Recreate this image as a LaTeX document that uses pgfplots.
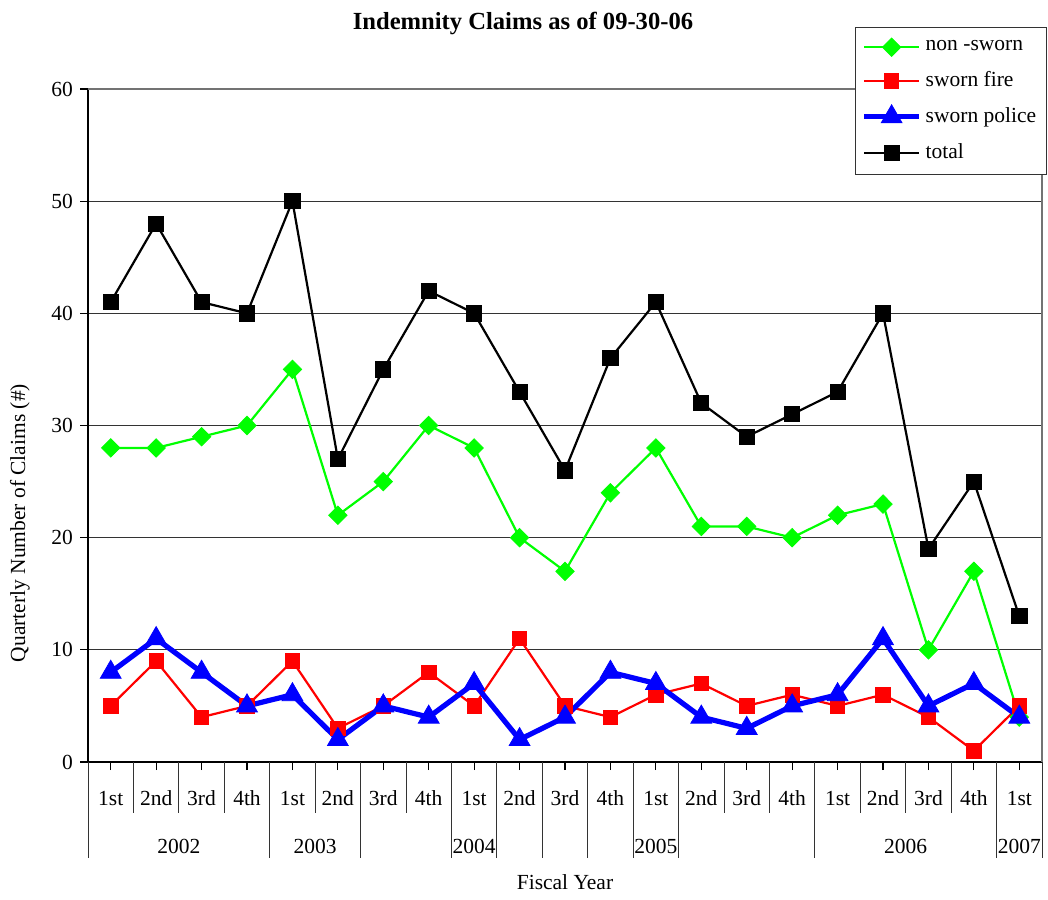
\documentclass[border=0pt]{standalone}
\usepackage{pgfplots}
\pgfplotsset{compat=1.18}
\usepackage{fontspec}
\setmainfont{Liberation Serif}
\newcommand\lbl{\fontsize{10.75pt}{12pt}\selectfont}
\definecolor{lime}{RGB}{0,255,0}
\begin{document}
\begin{tikzpicture}
\useasboundingbox (0,0) rectangle (524pt,449.5pt);
\begin{axis}[
  at={(44pt,68.5pt)}, anchor=south west,
  scale only axis, width=477pt, height=336.5pt,
  xmin=-0.5, xmax=20.5, ymin=0, ymax=60,
  xtick={0,...,20}, xticklabels={},
  ytick={0,10,...,60},
  tick align=outside, xtick pos=bottom, ytick pos=left,
  major tick length=4pt,
  tick style={black, line width=0.6pt},
  ymajorgrids, grid style={black!80, line width=0.5pt},
  axis line style={black, line width=0.8pt},
  /pgf/number format/assume math mode=true,
  ticklabel style={font=\lbl},
  clip=false,
  every axis title shift=0pt,
  title={Indemnity Claims as of 09-30-06},
  title style={at={(axis description cs:0.456,1.089)}, anchor=base, font=\bfseries\fontsize{12.3pt}{14pt}\selectfont},
  ylabel={Quarterly Number of Claims (\#)},
  ylabel style={at={(axis description cs:-0.0713,0.355)}, anchor=center, font=\lbl},
  xlabel={Fiscal Year},
  xlabel style={at={(axis description cs:0.5,-0.178)}, anchor=center, font=\lbl},
  legend style={at={(axis description cs:0.804,1.092)}, anchor=north west, draw=black!80, line width=0.5pt, font=\lbl, row sep=5pt, inner xsep=3pt, inner ysep=4.5pt, cells={anchor=west}},
  legend image code/.code={\draw[mark repeat=2,mark phase=2] plot coordinates {(0pt,0pt) (13.75pt,0pt) (27.5pt,0pt)};},
]
\addplot[color=lime, line width=1.1pt, mark=diamond*, mark size=4.6pt, mark options={solid, xscale=1.33, line width=0.4pt, fill=lime}]
 coordinates {(0,28)(1,28)(2,29)(3,30)(4,35)(5,22)(6,25)(7,30)(8,28)(9,20)(10,17)(11,24)(12,28)(13,21)(14,21)(15,20)(16,22)(17,23)(18,10)(19,17)(20,4)};
\addlegendentry{non -sworn}
\addplot[color=red, line width=1.1pt, mark=square*, mark size=3.6pt, mark options={solid, line width=0.4pt, fill=red}]
 coordinates {(0,5)(1,9)(2,4)(3,5)(4,9)(5,3)(6,5)(7,8)(8,5)(9,11)(10,5)(11,4)(12,6)(13,7)(14,5)(15,6)(16,5)(17,6)(18,4)(19,1)(20,5)};
\addlegendentry{sworn fire}
\addplot[color=blue, line width=2.6pt, mark=triangle*, mark size=6pt, mark options={solid, line width=0.4pt, fill=blue}]
 coordinates {(0,8)(1,11)(2,8)(3,5)(4,6)(5,2)(6,5)(7,4)(8,7)(9,2)(10,4)(11,8)(12,7)(13,4)(14,3)(15,5)(16,6)(17,11)(18,5)(19,7)(20,4)};
\addlegendentry{sworn police}
\addplot[color=black, line width=1.1pt, mark=square*, mark size=3.8pt, mark options={solid, line width=0.4pt, fill=black}]
 coordinates {(0,41)(1,48)(2,41)(3,40)(4,50)(5,27)(6,35)(7,42)(8,40)(9,33)(10,26)(11,36)(12,41)(13,32)(14,29)(15,31)(16,33)(17,40)(18,19)(19,25)(20,13)};
\addlegendentry{total}
% plot-area border (grey top and right)
\draw[black!55, line width=0.8pt] (rel axis cs:0,1) -- (rel axis cs:1,1) -- (rel axis cs:1,0);
% category separators
\pgfplotsinvokeforeach{0.5,1.5,2.5,4.5,6.5,13.5,14.5,16.5,17.5,18.5}{\draw[black!80, line width=0.5pt] (axis cs:#1,0) -- ++(0pt,-25.5pt);}
\pgfplotsinvokeforeach{-0.5,3.5,5.5,7.5,8.5,9.5,10.5,11.5,12.5,15.5,19.5,20.5}{\draw[black!80, line width=0.5pt] (axis cs:#1,0) -- ++(0pt,-48pt);}
% quarter labels
\node[anchor=base, font=\lbl, yshift=-21.5pt] at (axis cs:0,0) {1st};
\node[anchor=base, font=\lbl, yshift=-21.5pt] at (axis cs:1,0) {2nd};
\node[anchor=base, font=\lbl, yshift=-21.5pt] at (axis cs:2,0) {3rd};
\node[anchor=base, font=\lbl, yshift=-21.5pt] at (axis cs:3,0) {4th};
\node[anchor=base, font=\lbl, yshift=-21.5pt] at (axis cs:4,0) {1st};
\node[anchor=base, font=\lbl, yshift=-21.5pt] at (axis cs:5,0) {2nd};
\node[anchor=base, font=\lbl, yshift=-21.5pt] at (axis cs:6,0) {3rd};
\node[anchor=base, font=\lbl, yshift=-21.5pt] at (axis cs:7,0) {4th};
\node[anchor=base, font=\lbl, yshift=-21.5pt] at (axis cs:8,0) {1st};
\node[anchor=base, font=\lbl, yshift=-21.5pt] at (axis cs:9,0) {2nd};
\node[anchor=base, font=\lbl, yshift=-21.5pt] at (axis cs:10,0) {3rd};
\node[anchor=base, font=\lbl, yshift=-21.5pt] at (axis cs:11,0) {4th};
\node[anchor=base, font=\lbl, yshift=-21.5pt] at (axis cs:12,0) {1st};
\node[anchor=base, font=\lbl, yshift=-21.5pt] at (axis cs:13,0) {2nd};
\node[anchor=base, font=\lbl, yshift=-21.5pt] at (axis cs:14,0) {3rd};
\node[anchor=base, font=\lbl, yshift=-21.5pt] at (axis cs:15,0) {4th};
\node[anchor=base, font=\lbl, yshift=-21.5pt] at (axis cs:16,0) {1st};
\node[anchor=base, font=\lbl, yshift=-21.5pt] at (axis cs:17,0) {2nd};
\node[anchor=base, font=\lbl, yshift=-21.5pt] at (axis cs:18,0) {3rd};
\node[anchor=base, font=\lbl, yshift=-21.5pt] at (axis cs:19,0) {4th};
\node[anchor=base, font=\lbl, yshift=-21.5pt] at (axis cs:20,0) {1st};
% year labels
\node[anchor=base, font=\lbl, yshift=-45.5pt] at (axis cs:1.5,0) {2002};
\node[anchor=base, font=\lbl, yshift=-45.5pt] at (axis cs:4.5,0) {2003};
\node[anchor=base, font=\lbl, yshift=-45.5pt] at (axis cs:8,0) {2004};
\node[anchor=base, font=\lbl, yshift=-45.5pt] at (axis cs:12,0) {2005};
\node[anchor=base, font=\lbl, yshift=-45.5pt] at (axis cs:17.5,0) {2006};
\node[anchor=base, font=\lbl, yshift=-45.5pt] at (axis cs:20,0) {2007};
\end{axis}
\end{tikzpicture}
\end{document}
